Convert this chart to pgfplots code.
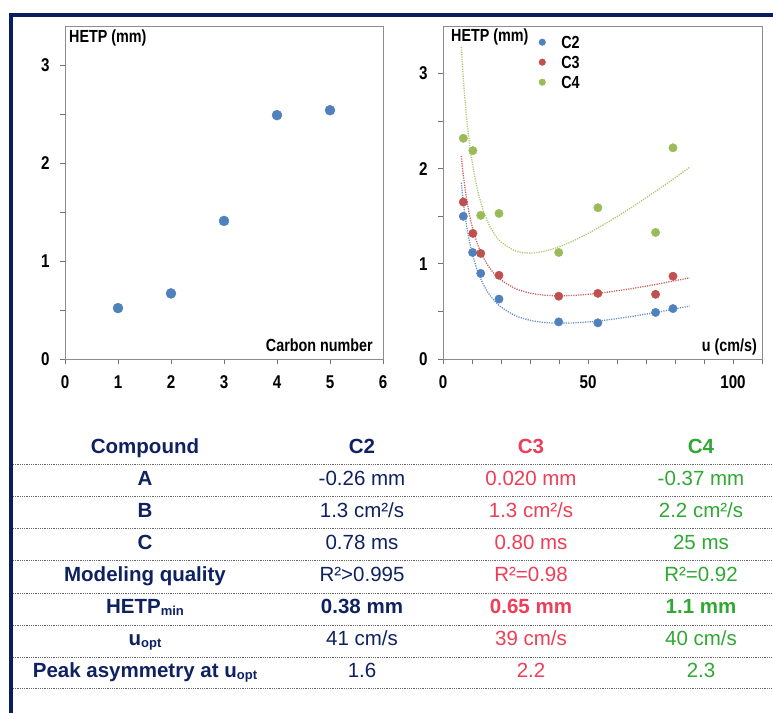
\documentclass[border=0pt]{standalone}
\usepackage{fontspec}
\setmainfont{Liberation Sans}
\newfontfamily\cf[FakeStretch=0.82]{Liberation Sans}
\usepackage{pgfplots}
\pgfplotsset{compat=1.18}
\definecolor{navy}{RGB}{14,34,98}
\definecolor{framec}{RGB}{8,30,95}
\definecolor{cred}{RGB}{238,62,88}
\definecolor{cgreen}{RGB}{48,168,52}
\definecolor{pblue}{RGB}{79,129,189}
\definecolor{pred}{RGB}{192,80,77}
\definecolor{pgreen}{RGB}{155,187,89}
\definecolor{lblue}{RGB}{105,145,205}
\definecolor{lred}{RGB}{205,95,95}
\definecolor{lgreen}{RGB}{175,200,110}
\newcommand\sub[1]{\raisebox{-2.5pt}{\fontsize{13}{13}\selectfont #1}}
\pgfplotsset{chart/.style={scale only axis, anchor=south west,
  axis line style={black!45, line width=0.8pt},
  tick style={black!55, line width=0.8pt},
  tick align=outside, major tick length=5pt, minor tick length=5pt,
  ticklabel style={font=\cf\bfseries\fontsize{18.5}{18.5}\selectfont},
  xticklabel style={yshift=-8pt}, yticklabel style={xshift=-7pt},
  /pgf/number format/assume math mode=true,
  tick pos=left}}
\tikzset{fitline/.style={dash pattern=on 1.2pt off 1.2pt, line width=1.3pt, smooth}}
\begin{document}
\begin{tikzpicture}
\path[use as bounding box] (0pt,0pt) rectangle (773pt,-713pt);
\fill[white] (0pt,0pt) rectangle (773pt,-713pt);
% left chart
\begin{axis}[chart, at={(65pt,-359pt)}, width=318pt, height=333pt,
  xmin=0, xmax=6, ymin=0, ymax=3.4,
  xtick={0,1,2,3,4,5,6}, ytick={0,1,2,3}, minor ytick={0.5,1.5,2.5}]
\addplot[only marks, mark=*, mark size=5pt, color=pblue] coordinates {(1,0.52)(2,0.67)(3,1.41)(4,2.49)(5,2.54)};
\end{axis}
% right chart
\begin{axis}[chart, at={(443pt,-359pt)}, width=319pt, height=333pt,
  xmin=0, xmax=110, ymin=0, ymax=3.5,
  xtick={0,50,100}, minor xtick={10,20,30,40,60,70,80,90,110},
  ytick={0,1,2,3}, minor ytick={0.5,1.5,2.5},
  legend style={at={(0.298,0.97)}, anchor=north west, draw=none, fill=none,
    font=\cf\bfseries\fontsize{17.5}{17.5}\selectfont, inner sep=0pt, row sep=8pt,
    nodes={text height=12pt, text depth=0pt, inner sep=0pt}},
  legend cell align=left,
  legend image code/.code={\draw[#1] plot[only marks, mark size=3.3pt] coordinates {(0pt,0pt)}; \path[draw=none, fill=none] (-4pt,0pt) (19pt,0pt);}]
\addplot[lblue, fitline, forget plot] coordinates {(6.3,1.853)(7,1.652)(8,1.427)(9,1.255)(10,1.118)(12,0.917)(14,0.778)(16,0.677)(18,0.603)(20,0.546)(25,0.455)(30,0.407)(35,0.384)(40,0.377)(45,0.380)(50,0.390)(55,0.405)(60,0.425)(65,0.447)(70,0.472)(75,0.498)(80,0.527)(85,0.556)};
\addplot[lred, fitline, forget plot] coordinates {(6.3,2.134)(7,1.933)(8,1.709)(9,1.536)(10,1.400)(12,1.199)(14,1.061)(16,0.961)(18,0.886)(20,0.830)(25,0.740)(30,0.693)(35,0.671)(40,0.665)(45,0.669)(50,0.680)(55,0.696)(60,0.717)(65,0.740)(70,0.766)(75,0.793)(80,0.823)(85,0.853)};
\addplot[lgreen, fitline, forget plot] coordinates {(6.3,3.280)(7,2.948)(8,2.580)(9,2.299)(10,2.080)(12,1.763)(14,1.551)(16,1.405)(18,1.302)(20,1.230)(25,1.135)(30,1.113)(35,1.134)(40,1.180)(45,1.244)(50,1.320)(55,1.405)(60,1.497)(65,1.593)(70,1.694)(75,1.798)(80,1.905)(85,2.014)};
\addplot[only marks, mark=*, mark size=4.2pt, color=pblue] coordinates {(7.0,1.50)(10.2,1.12)(13.0,0.90)(19.3,0.63)(39.9,0.39)(53.4,0.38)(73.3,0.49)(79.3,0.53)};
\addlegendentry{C2}
\addplot[only marks, mark=*, mark size=4.2pt, color=pred] coordinates {(7.0,1.65)(10.3,1.32)(13.0,1.11)(19.3,0.88)(39.9,0.66)(53.4,0.69)(73.3,0.68)(79.3,0.87)};
\addlegendentry{C3}
\addplot[only marks, mark=*, mark size=4.2pt, color=pgreen] coordinates {(7.0,2.32)(10.3,2.19)(13.0,1.51)(19.3,1.53)(39.9,1.12)(53.4,1.59)(73.3,1.33)(79.3,2.22)};
\addlegendentry{C4}
\end{axis}
% chart labels
\begin{scope}[every node/.style={font=\cf\bfseries\fontsize{17.5}{17.5}\selectfont, inner sep=0pt}]
\node[anchor=west] at (69pt,-38pt) {HETP (mm)};
\node[anchor=east] at (373pt,-345pt) {Carbon number};
\node[anchor=west] at (451pt,-37pt) {HETP (mm)};
\node[anchor=east] at (757pt,-347pt) {u (cm/s)};
\end{scope}
% frame
\draw[framec, line width=4pt] (9.3pt,-14.7pt) -- (773pt,-14.7pt);
\draw[framec, line width=4pt] (11.3pt,-12.7pt) -- (11.3pt,-713pt);
% table lines
\foreach \y in {464,496,528,560,593,625,657,688}
  \draw[black!60, line width=0.9pt, dash pattern=on 0.9pt off 0.9pt] (13pt,-\y pt) -- (773pt,-\y pt);
% table text
\begin{scope}[every node/.style={font=\fontsize{20.5}{20.5}\selectfont, anchor=base, inner sep=0pt}]
\node[navy, font=\bfseries\fontsize{20.5}{20.5}\selectfont] at (145pt,-453pt) {Compound};
\node[navy, font=\bfseries\fontsize{20.5}{20.5}\selectfont] at (362pt,-453pt) {C2};
\node[cred, font=\bfseries\fontsize{20.5}{20.5}\selectfont] at (531pt,-453pt) {C3};
\node[cgreen, font=\bfseries\fontsize{20.5}{20.5}\selectfont] at (701pt,-453pt) {C4};
% row labels
\node[navy, font=\bfseries\fontsize{20.5}{20.5}\selectfont] at (145pt,-485.5pt) {A};
\node[navy, font=\bfseries\fontsize{20.5}{20.5}\selectfont] at (145pt,-517pt) {B};
\node[navy, font=\bfseries\fontsize{20.5}{20.5}\selectfont] at (145pt,-549pt) {C};
\node[navy, font=\bfseries\fontsize{20.5}{20.5}\selectfont] at (145pt,-581pt) {Modeling quality};
\node[navy, font=\bfseries\fontsize{20.5}{20.5}\selectfont] at (145pt,-613pt) {HETP\sub{min}};
\node[navy, font=\bfseries\fontsize{20.5}{20.5}\selectfont] at (145pt,-645pt) {u\sub{opt}};
\node[navy, font=\bfseries\fontsize{20.5}{20.5}\selectfont] at (145pt,-677pt) {Peak asymmetry at u\sub{opt}};
% C2
\node[navy] at (362pt,-485.5pt) {-0.26 mm};
\node[navy] at (362pt,-517pt) {1.3 cm²/s};
\node[navy] at (362pt,-549pt) {0.78 ms};
\node[navy] at (362pt,-581pt) {R²>0.995};
\node[navy, font=\bfseries\fontsize{20.5}{20.5}\selectfont] at (362pt,-613pt) {0.38 mm};
\node[navy] at (362pt,-645pt) {41 cm/s};
\node[navy] at (362pt,-677pt) {1.6};
% C3
\node[cred] at (531pt,-485.5pt) {0.020 mm};
\node[cred] at (531pt,-517pt) {1.3 cm²/s};
\node[cred] at (531pt,-549pt) {0.80 ms};
\node[cred] at (531pt,-581pt) {R²=0.98};
\node[cred, font=\bfseries\fontsize{20.5}{20.5}\selectfont] at (531pt,-613pt) {0.65 mm};
\node[cred] at (531pt,-645pt) {39 cm/s};
\node[cred] at (531pt,-677pt) {2.2};
% C4
\node[cgreen] at (701pt,-485.5pt) {-0.37 mm};
\node[cgreen] at (701pt,-517pt) {2.2 cm²/s};
\node[cgreen] at (701pt,-549pt) {25 ms};
\node[cgreen] at (701pt,-581pt) {R²=0.92};
\node[cgreen, font=\bfseries\fontsize{20.5}{20.5}\selectfont] at (701pt,-613pt) {1.1 mm};
\node[cgreen] at (701pt,-645pt) {40 cm/s};
\node[cgreen] at (701pt,-677pt) {2.3};
\end{scope}
\end{tikzpicture}
\end{document}
